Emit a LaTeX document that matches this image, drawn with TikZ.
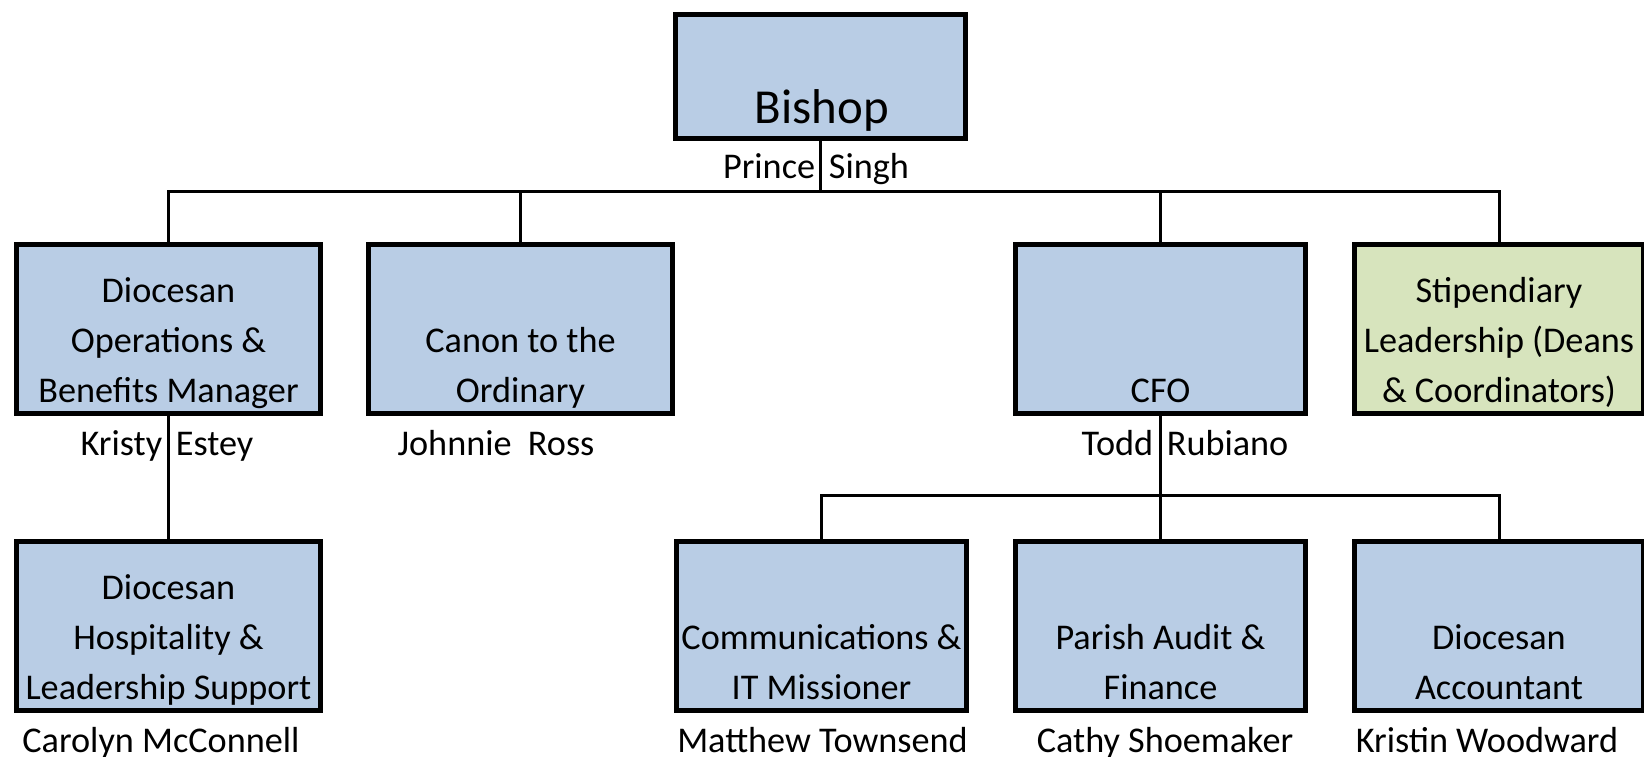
\documentclass[tikz,border=0pt]{standalone}
\usepackage{fontspec}
\setmainfont{Carlito}
\definecolor{postblue}{RGB}{185,205,229}
\definecolor{postgreen}{RGB}{215,228,189}

\begin{document}
\begin{tikzpicture}[x=0.01cm,y=-0.01cm]
    \tikzstyle{post}=[draw=black, line width=1.4pt, fill=postblue, inner sep=0pt, outer sep=0pt, minimum height=1.69cm]
    \tikzstyle{widepost}=[post, minimum width=3.04cm]
    \tikzstyle{narrowpost}=[post, minimum width=2.89cm]
    \tikzstyle{roletext}=[anchor=base, text width=3.4cm, align=flush center, inner sep=0pt, font=\fontsize{10.3}{14.23}\selectfont]
    \tikzstyle{holder}=[anchor=base, inner sep=0pt, font=\fontsize{10.3}{14.23}\selectfont]
    \tikzstyle{link}=[line width=0.85pt]
    \clip (0,0) rectangle (1644,757);
    % top
    \node[post, minimum width=2.9cm, minimum height=1.24cm] (bishop) at (820.5,76.5){};
    \node[roletext, font=\fontsize{13.9}{17}\selectfont] (bishopT) at (822,123){Bishop};
    \node[holder] (bishopN) at (816,178){Prince\hspace{.38em}Singh};
    % second row
    \node[widepost] (ops) at (168.5,329){};
    \node[widepost] (canon) at (520.5,329){};
    \node[narrowpost] (cfo) at (1160.5,329){};
    \node[narrowpost, fill=postgreen] (stip) at (1499,329){};
    \node[roletext] (opsT) at (168.5,302){Diocesan\\Operations \&\\Benefits Manager};
    \node[roletext] (canonT) at (520.5,352){Canon to the\\Ordinary};
    \node[roletext] (cfoT) at (1160.5,402){CFO};
    \node[roletext] (stipT) at (1499,302){Stipendiary\\Leadership (Deans\\\& Coordinators)};
    \node[holder] (opsN) at (167,455){Kristy\hspace{.38em}Estey};
    \node[holder] (canonN) at (496,455){Johnnie~~Ross};
    \node[holder] (cfoN) at (1185,455){Todd\hspace{.38em}Rubiano};
    % third row
    \node[widepost] (hosp) at (168.5,626){};
    \node[narrowpost] (comms) at (821.5,626){};
    \node[narrowpost] (audit) at (1160.5,626){};
    \node[narrowpost] (acct) at (1499,626){};
    \node[roletext] (hospT) at (168.5,599){Diocesan\\Hospitality \&\\Leadership Support};
    \node[roletext] (commsT) at (821.5,649){Communications \&\\IT Missioner};
    \node[roletext] (auditT) at (1160.5,649){Parish Audit \&\\Finance};
    \node[roletext] (acctT) at (1499,649){Diocesan\\Accountant};
    \node[holder] (hospN) at (161,752){Carolyn McConnell};
    \node[holder] (commsN) at (822.5,752){Matthew Townsend};
    \node[holder] (auditN) at (1165,752){Cathy Shoemaker};
    \node[holder] (acctN) at (1487,752){Kristin Woodward};
    % lines
    \coordinate (bus) at (0,191);
    \coordinate (cfobus) at (0,495);
    \draw[link] (bishop.south) -- (bishop.south |- bus);
    \draw[link] (ops.north) -- (ops.north |- bus) -- (stip.north |- bus) -- (stip.north);
    \draw[link] (canon.north) -- (canon.north |- bus);
    \draw[link] (cfo.north) -- (cfo.north |- bus);
    \draw[link] (ops.south) -- (hosp.north);
    \draw[link] (cfo.south) -- (audit.north);
    \draw[link] (comms.north) -- (comms.north |- cfobus) -- (acct.north |- cfobus) -- (acct.north);
  \end{tikzpicture}
\end{document}
